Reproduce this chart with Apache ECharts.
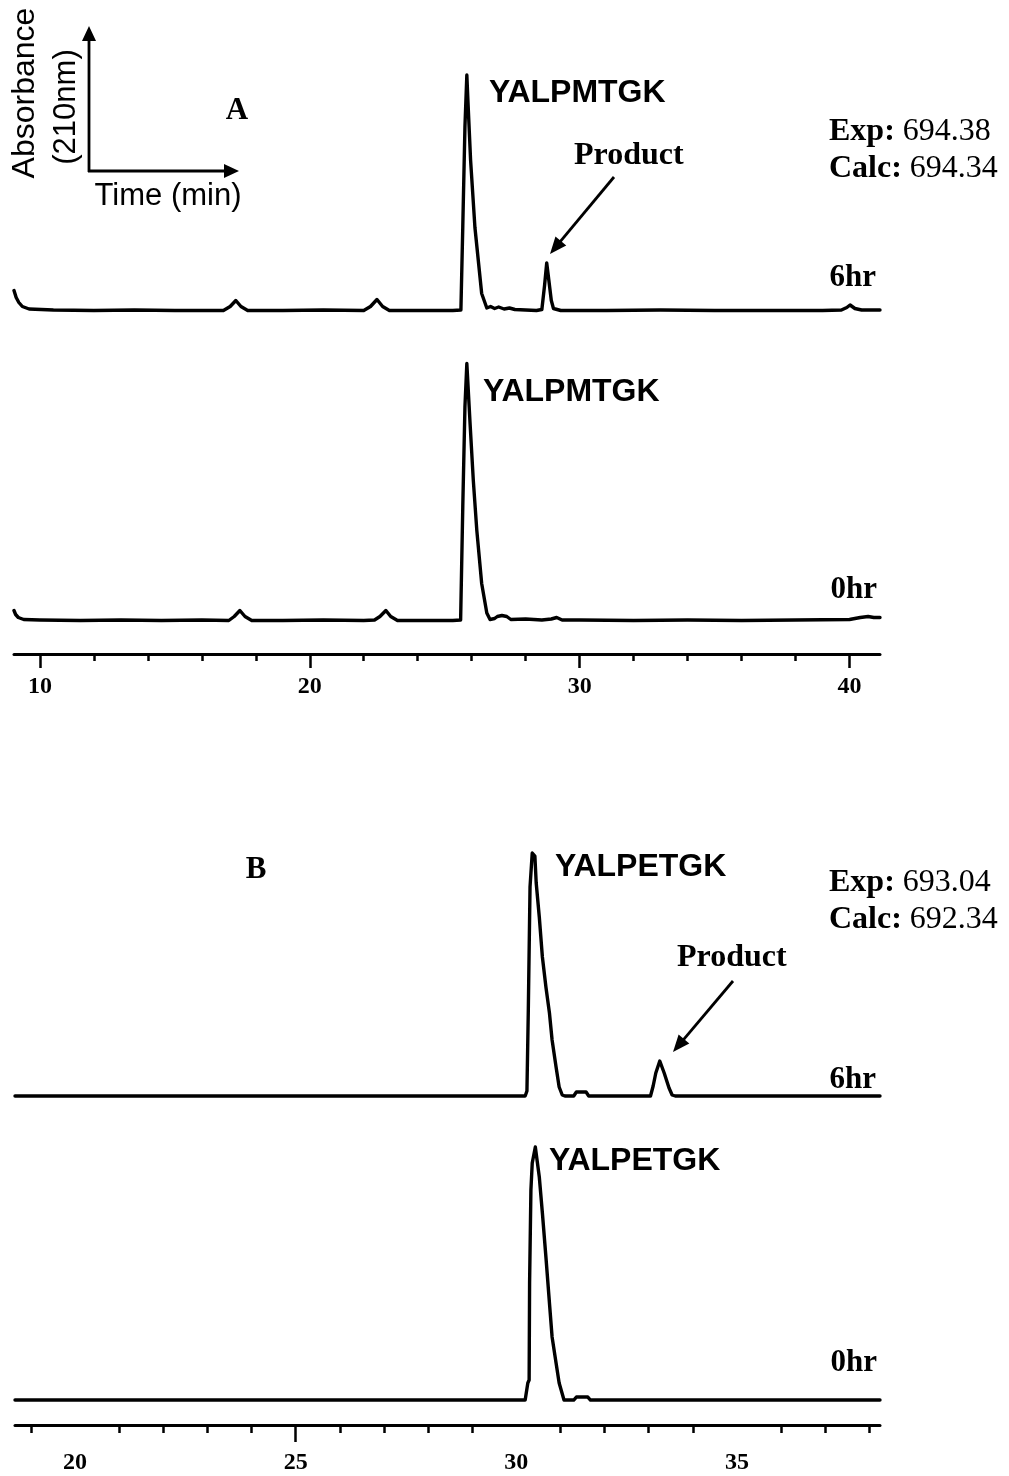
<!DOCTYPE html>
<html><head><meta charset="utf-8">
<script src="https://cdn.jsdelivr.net/npm/echarts@6/dist/echarts.min.js"></script>
<style>html,body{margin:0;padding:0;background:#fff}#chart{width:1009px;height:1476px}</style>
</head><body><div id="chart"></div>
<script>
// ---------- Panel A (YALPMTGK), retention time (min) / absorbance (a.u.) ----------
const a6Time = [9.04, 9.12, 9.22, 9.35, 9.6, 10.5, 12.0, 13.5, 15.0, 16.8, 17.05, 17.26, 17.45, 17.7, 19.0, 20.5, 22.0, 22.25, 22.49, 22.7, 22.95, 24.0, 25.3, 25.60, 25.67, 25.75, 25.82, 25.86, 25.96, 26.12, 26.37, 26.56, 26.7, 26.85, 27.0, 27.2, 27.4, 27.6, 28.0, 28.4, 28.60, 28.70, 28.78, 28.86, 28.95, 29.03, 29.3, 31.0, 33.0, 35.0, 37.0, 39.0, 39.7, 39.9, 40.02, 40.2, 40.45, 41.13];
const a6Abs  = [20, 13, 8, 4, 1.5, 0.5, 0, 0.5, 0, 0, 4, 10, 4, 0, 0, 0.5, 0, 4, 11, 4, 0, 0, 0, 0.5, 84, 184, 235.5, 210, 150, 83, 17, 2.5, 4, 2, 3.5, 1.5, 2.5, 1, 0.5, 0, 1, 25, 47.5, 30, 10, 2, 0, 0, 0.5, 0, 0, 0, 0.5, 3, 5.5, 2, 0.5, 0.5];

const a0Time = [9.04, 9.1, 9.2, 9.4, 10.0, 11.5, 13.0, 14.5, 16.0, 17.0, 17.2, 17.41, 17.6, 17.85, 19.0, 20.5, 22.0, 22.4, 22.6, 22.82, 23.0, 23.25, 24.5, 25.3, 25.59, 25.67, 25.75, 25.82, 25.94, 26.06, 26.19, 26.37, 26.56, 26.68, 26.85, 26.95, 27.12, 27.3, 27.45, 28.0, 28.6, 28.95, 29.15, 29.35, 30.0, 32.0, 34.0, 36.0, 38.0, 40.0, 40.4, 40.69, 40.9, 41.13];
const a0Abs  = [10, 6, 3, 1, 0.5, 0, 0.5, 0, 0.5, 0, 4, 10, 4, 0, 0, 0.5, 0, 0.5, 4, 10, 4, 0, 0, 0, 0.5, 114, 214, 257, 197, 140, 90, 37, 7.5, 1, 2, 4, 5, 4, 1, 1.5, 0.5, 1.5, 3, 0.5, 0.5, 0, 0.5, 0, 0.5, 1, 3, 4, 3, 3];

const aMajorTicks = [10, 20, 30, 40];
const aMinorTicks = [12, 14, 16, 18, 22, 24, 26, 28, 32, 34, 36, 38];

// ---------- Panel B (YALPETGK) ----------
const b6Time = [18.64, 20.0, 22.0, 24.0, 26.0, 28.0, 29.5, 30.20, 30.24, 30.27, 30.31, 30.36, 30.42, 30.45, 30.52, 30.59, 30.67, 30.75, 30.81, 30.90, 30.97, 31.04, 31.10, 31.30, 31.36, 31.58, 31.64, 32.5, 33.04, 33.10, 33.16, 33.25, 33.35, 33.46, 33.53, 33.60, 35.0, 36.5, 38.24];
const b6Abs  = [0, 0, 0, 0, 0, 0, 0, 0, 5, 83, 209, 243, 240, 213, 179, 139, 109, 83, 56, 29, 9, 1, 0, 0, 4, 4, 0, 0, 0, 10, 23, 35, 23, 8, 1, 0, 0, 0, 0];

const b0Time = [18.64, 20.0, 22.0, 24.0, 26.0, 28.0, 29.5, 30.20, 30.23, 30.26, 30.29, 30.30, 30.33, 30.36, 30.43, 30.52, 30.59, 30.67, 30.75, 30.81, 30.90, 30.97, 31.08, 31.30, 31.36, 31.62, 31.68, 33.0, 35.0, 36.5, 38.24];
const b0Abs  = [0, 0, 0, 0, 0, 0, 0, 0, 2, 17, 20, 117, 210, 237, 253, 223, 187, 143, 97, 63, 37, 17, 0, 0, 3, 3, 0, 0, 0, 0, 0];

const bMajorTicks = [25];
const bLabelValues = [20, 25, 30, 35];
const bMinorTicks = [19, 21, 22, 23, 24, 26, 27, 28, 29, 31, 32, 33, 34, 36, 37, 38];

const A_MIN = 9.04, A_MAX = 41.13;
const B_MIN = 18.64, B_MAX = 38.24;

// ---------- rendering ----------
const SERIF = '"Liberation Serif","Times New Roman",serif';
const SANS = '"Liberation Sans",Arial,sans-serif';
const pairs = (t, v) => t.map((x, i) => [x, v[i]]);

const chart = echarts.init(document.getElementById('chart'), null, {renderer: 'canvas'});

function hiddenX(grid, min, max) {
  return {gridIndex: grid, type: 'value', min, max, show: false, axisLine: {onZero: false}};
}
function majorX(grid, min, max, ticks, labels, tickLen, margin) {
  return {
    gridIndex: grid, type: 'value', min, max, position: 'bottom',
    axisLine: {show: true, onZero: false, lineStyle: {color: '#000', width: 3}},
    axisTick: {show: true, customValues: ticks, length: tickLen, lineStyle: {color: '#000', width: 2.5}},
    axisLabel: {show: true, customValues: labels, margin, color: '#000', fontFamily: SERIF, fontWeight: 'bold', fontSize: 24},
    splitLine: {show: false}
  };
}
function minorX(grid, min, max, ticks, tickLen) {
  return {
    gridIndex: grid, type: 'value', min, max, position: 'bottom',
    axisLine: {show: false, onZero: false},
    axisTick: {show: true, customValues: ticks, length: tickLen, lineStyle: {color: '#000', width: 2.5}},
    axisLabel: {show: false},
    splitLine: {show: false}
  };
}
function hiddenY(grid, min, max) {
  return {gridIndex: grid, type: 'value', min, max, show: false, splitLine: {show: false}};
}
function trace(idx, data) {
  return {
    type: 'line', xAxisIndex: idx, yAxisIndex: idx, data, symbol: 'none', showSymbol: false,
    lineStyle: {color: '#000', width: 3.4, join: 'round', cap: 'round'}, itemStyle: {color: '#000'},
    animation: false, silent: true
  };
}

function arrow(x1, y1, x2, y2, hl, hw, lw) {
  const dx = x2 - x1, dy = y2 - y1, L = Math.hypot(dx, dy), ux = dx / L, uy = dy / L;
  const bx = x2 - ux * hl, by = y2 - uy * hl, px = -uy * hw, py = ux * hw;
  return [
    {type: 'line', shape: {x1, y1, x2: bx + ux * 2, y2: by + uy * 2}, style: {stroke: '#000', lineWidth: lw}},
    {type: 'polygon', shape: {points: [[x2, y2], [bx + px, by + py], [bx - px, by - py]]}, style: {fill: '#000'}}
  ];
}
function txt(text, x, y, font, align, extra) {
  return Object.assign({
    type: 'text', x, y,
    style: {text, font, fill: '#000', align: align || 'left', textAlign: align || 'left', verticalAlign: 'middle', textVerticalAlign: 'middle'}
  }, extra || {});
}
function richTxt(label, value, x, y) {
  return {
    type: 'text', x, y,
    style: {
      text: '{b|' + label + '} ' + value, font: '32px ' + SERIF, fill: '#000',
      align: 'left', textAlign: 'left', verticalAlign: 'middle', textVerticalAlign: 'middle',
      rich: {b: {font: 'bold 32px ' + SERIF, fill: '#000'}}
    }
  };
}

const boldSerif = 'bold 31px ' + SERIF;
const productFont = 'bold 32px ' + SERIF;
const boldSans = 'bold 32px ' + SANS;
const sans = '31px ' + SANS;

const graphics = [].concat(
  // inset axes
  arrow(89, 172, 89, 26, 15, 7, 2.8),
  arrow(88, 171, 239, 171, 15, 7, 2.8),
  [txt('Absorbance', 25, 93, '32px ' + SANS, 'center', {rotation: Math.PI / 2})],
  [txt('(210nm)', 66, 107, sans, 'center', {rotation: Math.PI / 2})],
  [txt('Time (min)', 168, 196, sans, 'center')],
  // panel A
  [txt('A', 237, 111, 'bold 31px ' + SERIF, 'center')],
  [txt('YALPMTGK', 489, 93, boldSans, 'left')],
  [txt('Product', 574, 156, productFont, 'left')],
  arrow(614, 177, 550, 254, 17, 7, 2.8),
  [richTxt('Exp:', '694.38', 829, 132)],
  [richTxt('Calc:', '694.34', 829, 169)],
  [txt('6hr', 876, 278, boldSerif, 'right')],
  [txt('YALPMTGK', 483, 392, boldSans, 'left')],
  [txt('0hr', 877, 590, boldSerif, 'right')],
  // panel B
  [txt('B', 256, 870, 'bold 31px ' + SERIF, 'center')],
  [txt('YALPETGK', 555, 867, boldSans, 'left')],
  [richTxt('Exp:', '693.04', 829, 883)],
  [richTxt('Calc:', '692.34', 829, 920)],
  [txt('Product', 677, 958, productFont, 'left')],
  arrow(733, 981, 673, 1052, 17, 7, 2.8),
  [txt('6hr', 876, 1080, boldSerif, 'right')],
  [txt('YALPETGK', 549, 1161, boldSans, 'left')],
  [txt('0hr', 877, 1363, boldSerif, 'right')]
);

const option = {
  backgroundColor: '#fff',
  animation: false,
  grid: [
    {left: 14, right: 129, top: 60, height: 260},
    {left: 14, right: 129, top: 330, height: 324},
    {left: 15, right: 129, top: 830, height: 280},
    {left: 15, right: 129, top: 1120, height: 305}
  ],
  xAxis: [
    hiddenX(0, A_MIN, A_MAX),
    majorX(1, A_MIN, A_MAX, aMajorTicks, aMajorTicks, 14, 21),
    hiddenX(2, B_MIN, B_MAX),
    majorX(3, B_MIN, B_MAX, bMajorTicks, bLabelValues, 17, 26),
    minorX(1, A_MIN, A_MAX, aMinorTicks, 7),
    minorX(3, B_MIN, B_MAX, bMinorTicks, 8)
  ],
  yAxis: [
    hiddenY(0, -9.5, 250.5),
    hiddenY(1, -33.5, 290.5),
    hiddenY(2, -14, 266),
    hiddenY(3, -25, 280)
  ],
  series: [
    trace(0, pairs(a6Time, a6Abs)),
    trace(1, pairs(a0Time, a0Abs)),
    trace(2, pairs(b6Time, b6Abs)),
    trace(3, pairs(b0Time, b0Abs))
  ],
  graphic: {elements: graphics}
};
chart.setOption(option);
</script></body></html>
